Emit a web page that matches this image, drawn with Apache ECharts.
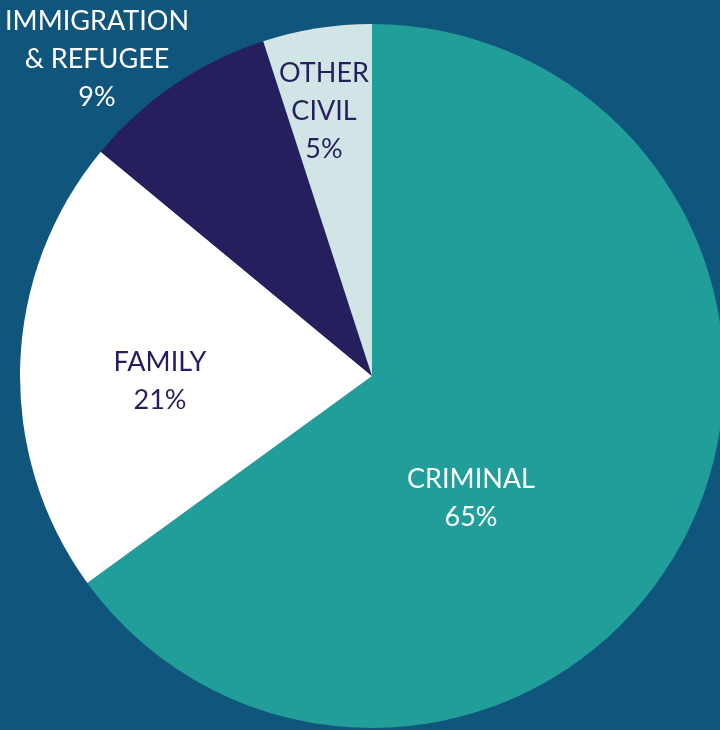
<!DOCTYPE html>
<html>
<head>
<meta charset="utf-8">
<style>
html,body{margin:0;padding:0;background:#10557B;}
#c{width:720px;height:730px;}
</style>
<script src="https://cdn.jsdelivr.net/npm/echarts@6/dist/echarts.min.js"></script>
</head>
<body>
<div id="c"></div>
<script>
const categories = ['CRIMINAL', 'FAMILY', 'IMMIGRATION\n& REFUGEE', 'OTHER\nCIVIL'];
const values = [65, 21, 9, 5];
const colors = ['#219E9A', '#FFFFFF', '#251F5E', '#D2E5E6'];
const labelColors = ['#FFFFFF', '#251F5E', '#FFFFFF', '#251F5E'];
const labelPos = [[471, 498], [160, 381], [97, 59], [324, 111]];

const chart = echarts.init(document.getElementById('c'), null, {renderer: 'canvas'});
chart.setOption({
  backgroundColor: '#10557B',
  animation: false,
  series: [{
    type: 'pie',
    center: [372, 376],
    radius: 352,
    startAngle: 90,
    clockwise: true,
    silent: true,
    itemStyle: {borderWidth: 0},
    label: {
      show: true,
      position: 'inside',
      formatter: p => p.name + '\n' + p.value + '%',
      fontFamily: 'Lato',
      fontSize: 27,
      lineHeight: 38,
      align: 'center'
    },
    labelLine: {show: false},
    labelLayout: function (params) {
      const p = labelPos[params.dataIndex];
      return {x: p[0], y: p[1], align: 'center', verticalAlign: 'middle'};
    },
    data: categories.map((c, i) => ({
      name: c,
      value: values[i],
      itemStyle: {color: colors[i]},
      label: {color: labelColors[i]}
    }))
  }]
});
</script>
</body>
</html>
